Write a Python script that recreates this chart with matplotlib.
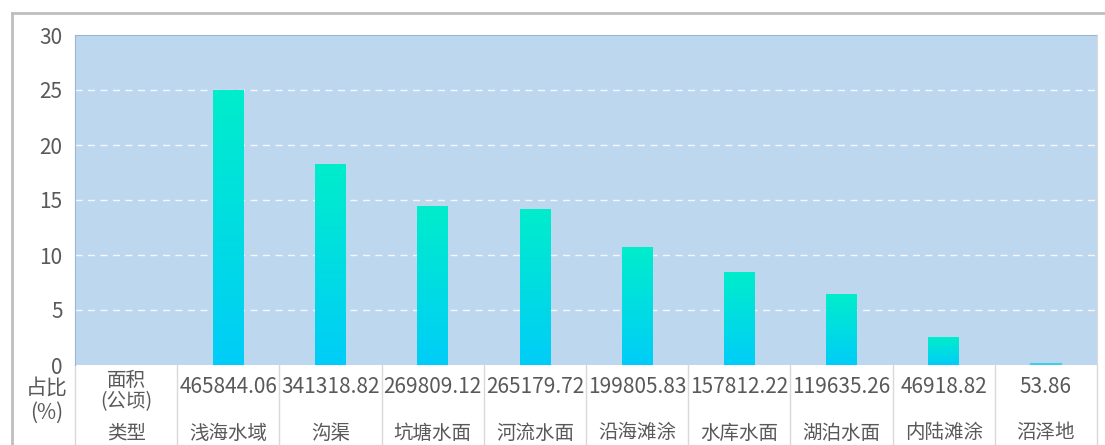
import numpy as np
import matplotlib
matplotlib.use("Agg")
import matplotlib.pyplot as plt
from matplotlib.colors import LinearSegmentedColormap
from matplotlib.lines import Line2D

plt.rcParams['font.family'] = ['Noto Sans CJK SC', 'DejaVu Sans']

# data
types = ["浅海水域", "沟渠", "坑塘水面", "河流水面", "沿海滩涂",
         "水库水面", "湖泊水面", "内陆滩涂", "沼泽地"]
areas = ["465844.06", "341318.82", "269809.12", "265179.72", "199805.83",
         "157812.22", "119635.26", "46918.82", "53.86"]
shares = [24.96, 18.29, 14.46, 14.21, 10.71, 8.46, 6.41, 2.51, 0.003]
yticks = [0, 5, 10, 15, 20, 25, 30]

txt = "#595959"
bg = "#BDD7EE"
grad = LinearSegmentedColormap.from_list("g", ["#00CDF8", "#00EDCB"])

fig = plt.figure(figsize=(11.05, 4.45), dpi=100)
ax = fig.add_axes([75 / 1105, 1 - 365 / 445, 1022 / 1105, 330 / 445])
ax.set_facecolor(bg)

xs = np.arange(1, len(types) + 1)
bars = ax.bar(xs, shares, width=0.3, color="none", zorder=3)
g = np.linspace(0, 1, 256).reshape(-1, 1)
for b in bars:
    x0, y0 = b.get_x(), b.get_y()
    w, h = b.get_width(), b.get_height()
    im = ax.imshow(g, cmap=grad, origin="lower", aspect="auto",
                   extent=[x0, x0 + w, y0, y0 + h], zorder=3)
    im.set_clip_path(b)
# the smallest share is only a hairline
ax.plot([xs[-1] - 0.15, xs[-1] + 0.15], [0.05, 0.05], color="#3CD0E8", lw=1.5, zorder=4)

ax.set_xlim(-0.5, len(types) + 0.5)
ax.set_ylim(0, 30)
ax.set_yticks(yticks)
ax.set_xticks([])
ax.tick_params(axis="y", length=0, pad=9, labelsize=15, labelcolor=txt)
for t in yticks[1:-1]:
    ax.axhline(t, color="white", lw=1, ls=(0, (5, 4)), alpha=0.85, zorder=1)
for s in ["top", "left"]:
    ax.spines[s].set_color("#98B6D6")
    ax.spines[s].set_linestyle((0, (1, 1)))
    ax.spines[s].set_linewidth(0.8)
ax.spines["bottom"].set_visible(False)
ax.spines["right"].set_color("#D9D9D9")

# table under the axis
tr = ax.get_xaxis_transform()
for xv in np.arange(-0.5, len(types) + 1, 1.0):
    ax.plot([xv, xv], [0, -0.5], transform=tr, color="#D9D9D9", lw=1, clip_on=False)
row1 = -22 / 330
row2 = -68 / 330
ax.text(0, -26 / 330, "面积\n(公顷)", transform=tr, ha="center", va="center",
        fontsize=14, color=txt, linespacing=1.05)
ax.text(0, row2, "类型", transform=tr, ha="center", va="center", fontsize=14, color=txt)
for xv, a, t in zip(xs, areas, types):
    ax.text(xv, row1, a, transform=tr, ha="center", va="center", fontsize=15, color=txt)
    ax.text(xv, row2, t, transform=tr, ha="center", va="center", fontsize=14, color=txt)

fig.text(47 / 1105, 1 - 400 / 445, "占比\n(%)", ha="center", va="center",
         fontsize=15, color=txt, linespacing=1.2)

# outer frame
fig.add_artist(Line2D([12 / 1105, 12 / 1105], [0, 1 - 13 / 445], color="#BFBFBF", lw=2))
fig.add_artist(Line2D([12 / 1105, 1], [1 - 13 / 445, 1 - 13 / 445], color="#BFBFBF", lw=2))

fig.savefig("out.png", dpi=100)
